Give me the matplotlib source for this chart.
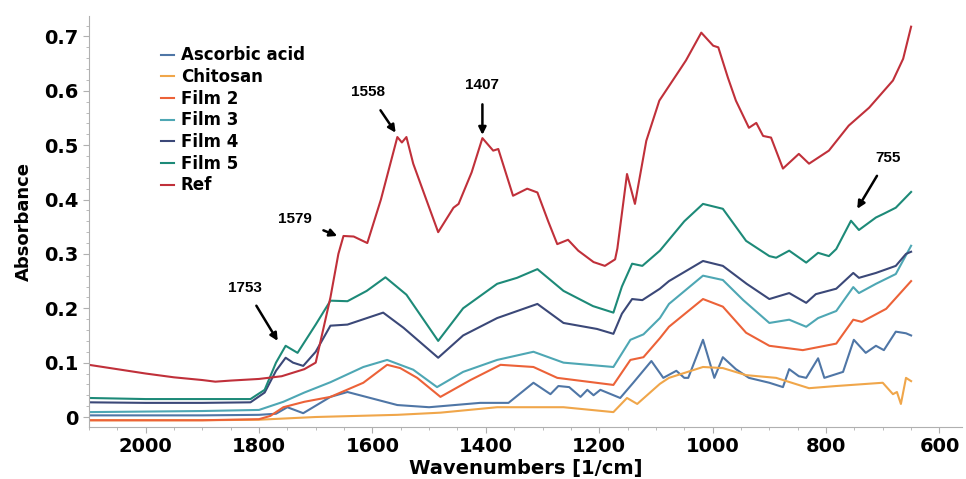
import numpy as np
import matplotlib.pyplot as plt
from matplotlib.ticker import MultipleLocator

# FTIR spectra (wavenumber in 1/cm, absorbance)
wn_ref = [2100, 2050, 2000, 1950, 1900, 1877, 1850, 1800, 1760, 1720, 1700, 1674,
          1660, 1651, 1633, 1609, 1585, 1556, 1548, 1540, 1528, 1505, 1484, 1457,
          1448, 1425, 1406, 1387, 1378, 1352, 1327, 1309, 1290, 1274, 1255, 1237,
          1210, 1190, 1172, 1168, 1151, 1137, 1117, 1094, 1059, 1047, 1020, 999,
          990, 973, 959, 936, 923, 911, 897, 876, 848, 830, 795, 760, 724, 682,
          664, 650]
ab_ref = [0.096, 0.088, 0.080, 0.073, 0.068, 0.065, 0.067, 0.070, 0.075, 0.088, 0.100, 0.220,
          0.300, 0.333, 0.332, 0.320, 0.400, 0.515, 0.505, 0.515, 0.466, 0.400, 0.340, 0.385,
          0.392, 0.450, 0.513, 0.490, 0.493, 0.407, 0.420, 0.413, 0.360, 0.318, 0.326, 0.306,
          0.285, 0.278, 0.290, 0.310, 0.447, 0.392, 0.508, 0.582, 0.637, 0.656, 0.707, 0.683,
          0.680, 0.624, 0.582, 0.532, 0.541, 0.517, 0.514, 0.457, 0.484, 0.466, 0.490, 0.536,
          0.569, 0.619, 0.659, 0.718]

wn_f5 = [2100, 2000, 1900, 1815, 1790, 1770, 1753, 1732, 1700, 1674, 1644, 1610,
         1577, 1540, 1484, 1440, 1380, 1345, 1309, 1263, 1211, 1175, 1160, 1142,
         1124, 1093, 1050, 1017, 982, 941, 900, 888, 865, 835, 814, 795, 782,
         756, 742, 712, 698, 677, 650]
ab_f5 = [0.035, 0.033, 0.033, 0.033, 0.050, 0.100, 0.131, 0.118, 0.170, 0.214, 0.213, 0.232,
         0.257, 0.225, 0.140, 0.200, 0.245, 0.256, 0.272, 0.232, 0.204, 0.192, 0.240, 0.282,
         0.278, 0.306, 0.360, 0.392, 0.383, 0.324, 0.296, 0.293, 0.306, 0.284, 0.302, 0.296, 0.309,
         0.361, 0.344, 0.367, 0.374, 0.385, 0.414]

wn_f4 = [2100, 2000, 1900, 1815, 1790, 1770, 1753, 1740, 1722, 1700, 1674, 1644,
         1581, 1545, 1484, 1440, 1380, 1309, 1263, 1204, 1175, 1160, 1142, 1124,
         1093, 1077, 1017, 982, 940, 900, 865, 835, 818, 782, 752, 742, 712, 677,
         659, 650]
ab_f4 = [0.027, 0.026, 0.026, 0.027, 0.045, 0.085, 0.109, 0.100, 0.094, 0.120, 0.168, 0.170,
         0.192, 0.164, 0.109, 0.150, 0.182, 0.208, 0.173, 0.162, 0.153, 0.190, 0.217, 0.215,
         0.236, 0.250, 0.287, 0.278, 0.245, 0.217, 0.228, 0.210, 0.226, 0.236, 0.265, 0.256,
         0.265, 0.278, 0.300, 0.304]

wn_f3 = [2100, 2000, 1900, 1800, 1757, 1720, 1674, 1616, 1574, 1528, 1486, 1440,
         1380, 1316, 1263, 1175, 1145, 1122, 1093, 1077, 1017, 982, 946, 900, 865,
         835, 814, 782, 752, 742, 712, 677, 650]
ab_f3 = [0.009, 0.010, 0.011, 0.013, 0.028, 0.045, 0.064, 0.092, 0.105, 0.087, 0.055, 0.083,
         0.105, 0.120, 0.100, 0.092, 0.142, 0.152, 0.182, 0.208, 0.260, 0.252, 0.215, 0.173,
         0.179, 0.166, 0.182, 0.195, 0.239, 0.228, 0.245, 0.263, 0.315]

wn_f2 = [2100, 2000, 1900, 1800, 1780, 1757, 1720, 1674, 1616, 1574, 1551, 1521,
         1480, 1427, 1374, 1316, 1274, 1175, 1145, 1122, 1093, 1077, 1017, 982,
         941, 900, 841, 782, 752, 737, 694, 650]
ab_f2 = [-0.006, -0.006, -0.006, -0.004, 0.002, 0.018, 0.028, 0.037, 0.063, 0.096, 0.090, 0.072,
         0.037, 0.068, 0.096, 0.092, 0.072, 0.059, 0.105, 0.110, 0.145, 0.166, 0.217, 0.203,
         0.155, 0.131, 0.123, 0.135, 0.179, 0.175, 0.199, 0.250]

wn_aa = [2100, 2000, 1900, 1800, 1770, 1750, 1722, 1674, 1644, 1556, 1500, 1410,
         1360, 1316, 1286, 1272, 1253, 1233, 1221, 1210, 1198, 1163, 1140, 1108,
         1087, 1064, 1050, 1043, 1017, 997, 982, 959, 936, 900, 876, 865, 848,
         835, 814, 803, 770, 751, 730, 712, 698, 677, 659, 650]
ab_aa = [0.003, 0.003, 0.003, 0.004, 0.006, 0.018, 0.007, 0.037, 0.046, 0.022, 0.018, 0.026,
         0.026, 0.063, 0.042, 0.057, 0.055, 0.037, 0.050, 0.040, 0.050, 0.035, 0.063, 0.103,
         0.072, 0.085, 0.072, 0.072, 0.142, 0.072, 0.110, 0.088, 0.072, 0.063, 0.055, 0.088, 0.075,
         0.072, 0.108, 0.072, 0.083, 0.142, 0.118, 0.131, 0.123, 0.157, 0.154, 0.150]

wn_ch = [2100, 2000, 1900, 1800, 1700, 1556, 1480, 1380, 1263, 1175, 1151, 1133,
         1093, 1077, 1017, 982, 941, 888, 830, 782, 700, 682, 675, 668, 659, 650]
ab_ch = [-0.006, -0.006, -0.006, -0.005, 0.000, 0.004, 0.008, 0.018, 0.018, 0.009, 0.035, 0.024,
         0.061, 0.072, 0.092, 0.090, 0.077, 0.072, 0.053, 0.057, 0.063, 0.042, 0.046, 0.024, 0.072, 0.066]

series = [
    ("Ascorbic acid", wn_aa, ab_aa, "#4f76a6"),
    ("Chitosan", wn_ch, ab_ch, "#f0a64a"),
    ("Film 2", wn_f2, ab_f2, "#ec6238"),
    ("Film 3", wn_f3, ab_f3, "#4ea7b4"),
    ("Film 4", wn_f4, ab_f4, "#3b4878"),
    ("Film 5", wn_f5, ab_f5, "#1d8a78"),
    ("Ref", wn_ref, ab_ref, "#c0303a"),
]

# peak labels: text, text position, arrow tip
peaks = [("1753", (1824, 0.238), (1767, 0.140)),
         ("1579", (1737, 0.365), (1662, 0.333)),
         ("1558", (1607, 0.597), (1559, 0.523)),
         ("1407", (1406, 0.611), (1406, 0.519)),
         ("755", (691, 0.477), (745, 0.383))]

fig = plt.figure(figsize=(9.66, 4.79), dpi=100)
ax = fig.add_axes([0.092, 0.109, 0.904, 0.858])

for name, x, y, c in series:
    ax.plot(x, y, color=c, lw=1.5, label=name)

for txt, (tx, ty), (px, py) in peaks:
    ax.annotate(txt, xy=(px, py), xytext=(tx, ty), ha="center", va="center",
                fontsize=11, fontweight="bold", family="Liberation Sans",
                arrowprops=dict(arrowstyle="-|>", color="black", lw=1.8,
                                mutation_scale=11, shrinkA=7, shrinkB=0))

ax.set_xlim(2100, 560)
ax.set_ylim(-0.018, 0.738)
ax.xaxis.set_major_locator(MultipleLocator(200))
ax.xaxis.set_minor_locator(MultipleLocator(50))
ax.yaxis.set_minor_locator(MultipleLocator(0.02))
ax.set_yticks(np.arange(0, 0.71, 0.1))
ax.set_yticklabels(["0"] + ["%.1f" % v for v in np.arange(0.1, 0.71, 0.1)])

for s in ["top", "right"]:
    ax.spines[s].set_visible(False)
for s in ["left", "bottom"]:
    ax.spines[s].set_color("#b0b0b0")
ax.tick_params(which="both", colors="#b0b0b0", labelcolor="black", labelsize=14)
ax.tick_params(which="major", length=4)
ax.tick_params(which="minor", length=2.5)
for lab in ax.get_xticklabels() + ax.get_yticklabels():
    lab.set_fontweight("bold")

ax.set_xlabel("Wavenumbers [1/cm]", fontsize=14, fontweight="bold", labelpad=2)
ax.set_ylabel("Absorbance", fontsize=13, fontweight="bold", labelpad=8)

leg = ax.legend(loc="upper left", bbox_to_anchor=(0.065, 0.962), frameon=False,
                handlelength=0.8, handletextpad=0.4, labelspacing=0.22,
                prop={"weight": "bold", "size": 12})

fig.savefig("out.png", dpi=100)
